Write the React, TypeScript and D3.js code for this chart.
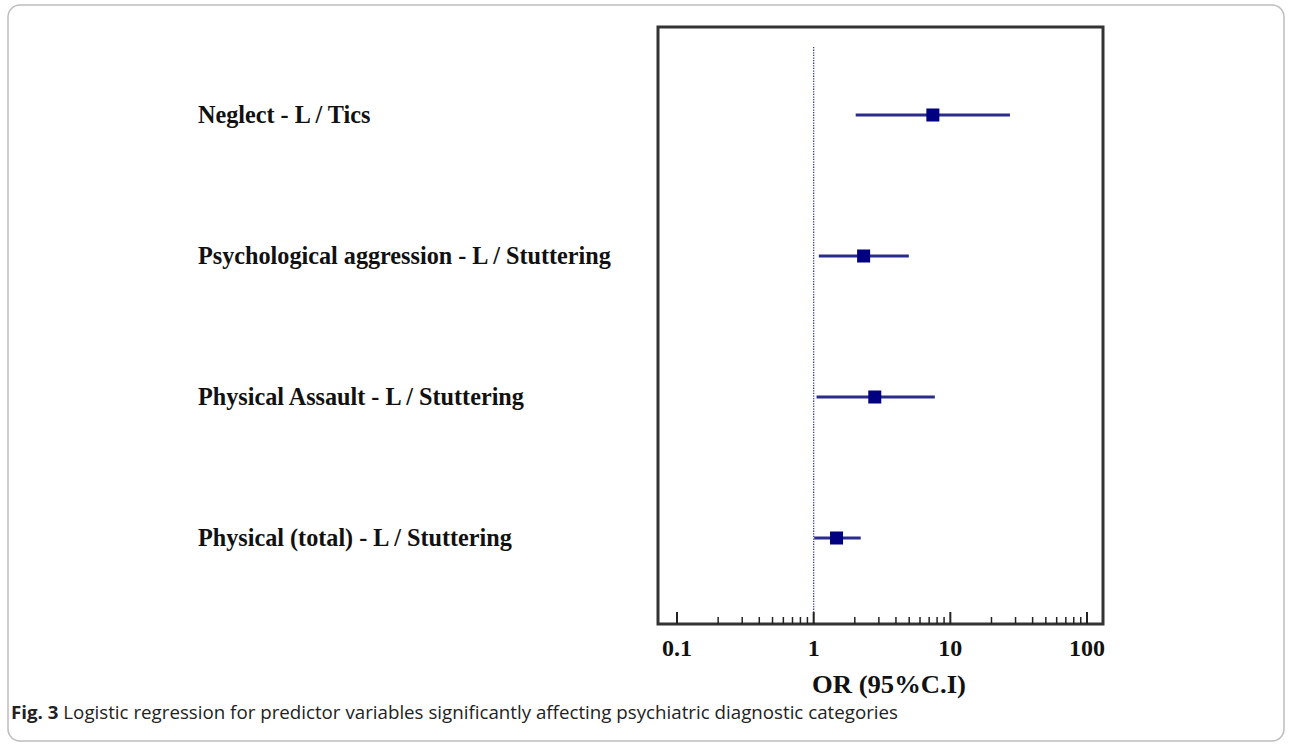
import React from "react";
import * as d3 from "d3";

const labels = [
  "Neglect - L / Tics",
  "Psychological aggression - L / Stuttering",
  "Physical Assault - L / Stuttering",
  "Physical (total) - L / Stuttering",
];
const oddsRatio = [7.45, 2.32, 2.8, 1.47];
const lowerCI = [2.03, 1.09, 1.05, 1.01];
const upperCI = [27.3, 4.97, 7.7, 2.21];
const tickLabels = [0.1, 1, 10, 100];

const W = 1292;
const H = 745;
const box = { left: 658, top: 27, right: 1103, bottom: 624 };
const serif = "Liberation Serif, Times New Roman, serif";

export default function App() {
  const x = d3.scaleLog().domain([0.1, 100]).range([677, 1087]);
  const y = d3.scalePoint<string>().domain(labels).range([115, 538]);
  const minor = x.ticks().filter((t) => !tickLabels.includes(t));
  const navy = "#000080";
  const lineCol = "#2b2b8c";

  return (
    <svg
      width={W}
      height={H}
      style={{ position: "absolute", left: 0, top: 0, background: "#fff" }}
    >
      <rect x={8} y={5} width={1276} height={736} rx={12} fill="none" stroke="#bdbdbd" strokeWidth={1.5} />
      <rect
        x={box.left}
        y={box.top}
        width={box.right - box.left}
        height={box.bottom - box.top}
        fill="none"
        stroke="#333"
        strokeWidth={3}
      />
      <line
        x1={x(1)}
        x2={x(1)}
        y1={47}
        y2={box.bottom}
        stroke="#3c3ca0"
        strokeWidth={1.3}
        strokeDasharray="1.3,1.3"
      />
      {tickLabels.map((t) => (
        <line key={"M" + t} x1={x(t)} x2={x(t)} y1={box.bottom} y2={box.bottom - 12} stroke="#222" strokeWidth={2} />
      ))}
      {minor.map((t) => (
        <line key={"m" + t} x1={x(t)} x2={x(t)} y1={box.bottom} y2={box.bottom - 7} stroke="#222" strokeWidth={1.5} />
      ))}
      {tickLabels.map((t) => (
        <text
          key={"L" + t}
          x={x(t)}
          y={656}
          textAnchor="middle"
          fontFamily={serif}
          fontWeight="bold"
          fontSize={24}
          fill="#111"
        >
          {String(t)}
        </text>
      ))}
      <text
        x={889}
        y={693}
        textAnchor="middle"
        fontFamily={serif}
        fontWeight="bold"
        fontSize={25}
        fill="#111"
        textLength={154}
        lengthAdjust="spacingAndGlyphs"
      >
        OR (95%C.I)
      </text>
      {labels.map((l, i) => (
        <g key={l}>
          <text
            x={198}
            y={y(l)}
            dy="0.35em"
            fontFamily={serif}
            fontWeight="bold"
            fontSize={24.2}
            fill="#111"
          >
            {l}
          </text>
          <line
            x1={x(lowerCI[i])}
            x2={x(upperCI[i])}
            y1={y(l)}
            y2={y(l)}
            stroke={lineCol}
            strokeWidth={3}
          />
          <rect
            x={x(oddsRatio[i]) - 6.5}
            y={(y(l) as number) - 6.5}
            width={13}
            height={13}
            fill={navy}
          />
        </g>
      ))}
      <text
        x={11}
        y={719}
        fontFamily="Open Sans, Noto Sans, sans-serif"
        fontSize={18}
        fill="#222"
        textLength={887}
        lengthAdjust="spacingAndGlyphs"
      >
        <tspan fontWeight="bold">Fig. 3</tspan>
        <tspan> Logistic regression for predictor variables significantly affecting psychiatric diagnostic categories</tspan>
      </text>
    </svg>
  );
}
